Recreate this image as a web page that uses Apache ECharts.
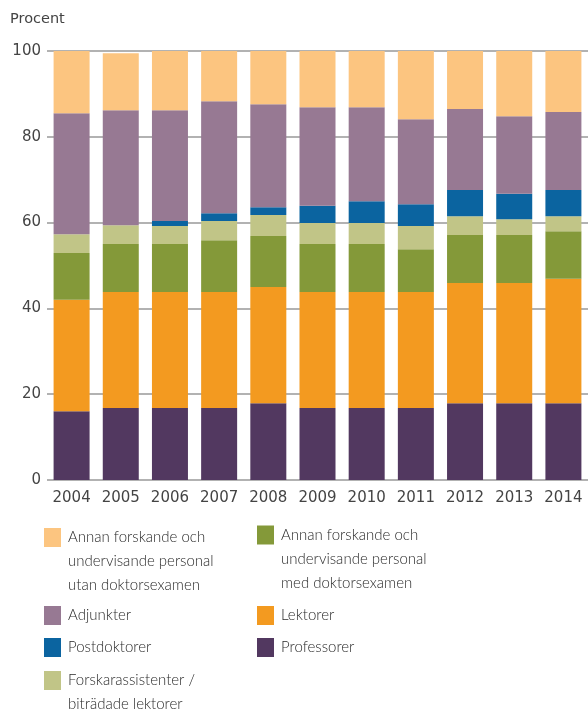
<!DOCTYPE html>
<html>
<head>
<meta charset="utf-8">
<script src="https://cdn.jsdelivr.net/npm/echarts@6/dist/echarts.min.js"></script>
<style>
  html, body { margin: 0; padding: 0; background: #fff; }
  #chart { width: 588px; height: 709px; }
</style>
</head>
<body>
<div id="chart"></div>
<script>
const years = ['2004', '2005', '2006', '2007', '2008', '2009', '2010', '2011', '2012', '2013', '2014']

// andelar i procent, nerifrån och upp i stapeln
const professorer = [16, 16.8, 16.8, 16.8, 17.9, 16.8, 16.8, 16.8, 17.9, 17.9, 17.9]
const lektorer = [26, 27, 27, 27, 27.1, 27, 27, 27, 28, 28, 29]
const annanMed = [10.9, 11.2, 11.2, 12.1, 11.9, 11.2, 11.2, 10, 11.2, 11.2, 11.1]
const forskarass = [4.4, 4.4, 4.2, 4.5, 4.9, 4.9, 4.9, 5.4, 4.4, 3.7, 3.5]
const postdok = [0, 0, 1.2, 1.8, 1.8, 4.0, 5.1, 5.1, 6.1, 5.9, 6.1]
const adjunkter = [28.2, 26.8, 25.8, 26.1, 24.0, 23.0, 21.9, 19.8, 18.9, 18.1, 18.2]
const annanUtan = [14.5, 13.3, 14.3, 11.7, 12.6, 13.1, 13.3, 15.9, 13.5, 15.2, 14.2]

const yTicks = [0, 20, 40, 60, 80, 100]

const names = {
  utan: 'Annan forskande och\nundervisande personal\nutan doktorsexamen',
  med: 'Annan forskande och\nundervisande personal\nmed doktorsexamen',
  adj: 'Adjunkter',
  lek: 'Lektorer',
  pd: 'Postdoktorer',
  prof: 'Professorer',
  fa: 'Forskarassistenter /\nbiträdade lektorer'
}

const colors = {
  prof: '#523860',
  lek: '#f39a20',
  med: '#849939',
  fa: '#c1c587',
  pd: '#0b64a0',
  adj: '#977993',
  utan: '#fcc580'
}

const textFont = 'Lato, "DejaVu Sans", sans-serif'
const lineH = 24

const chart = echarts.init(document.getElementById('chart'))

const bar = (key, data) => ({
  name: names[key],
  type: 'bar',
  stack: 'total',
  data: data,
  barWidth: 36,
  itemStyle: { color: colors[key] },
  emphasis: { disabled: true }
})

// ett legendobjekt per post, så att två kolumner kan placeras fritt.
// rutan centreras på textblocket, så tomma rader överst gör att
// rutan hamnar vid första textraden
const legendItem = (key, left, swatchMid) => {
  const lines = names[key].split('\n').length
  const pad = '\n'.repeat(lines - 1)
  const half = (2 * lines - 1) * lineH / 2
  return {
    data: [names[key]],
    formatter: (n) => pad + n,
    left: left,
    top: swatchMid - half,
    padding: 0,
    orient: 'vertical',
    icon: 'rect',
    itemWidth: 17,
    itemHeight: 19,
    itemGap: 0,
    selectedMode: false,
    textStyle: {
      fontFamily: textFont,
      fontWeight: 300,
      fontSize: 15,
      color: '#2a2a2a',
      lineHeight: lineH,
      padding: [0, 0, 0, 2]
    }
  }
}

const option = {
  animation: false,
  grid: { left: 47, right: -2, top: 51, bottom: 229 },
  legend: [
    legendItem('utan', 44, 537.5),
    legendItem('adj', 44, 615.5),
    legendItem('pd', 44, 647.5),
    legendItem('fa', 44, 680.5),
    legendItem('med', 257, 535),
    legendItem('lek', 257, 615.5),
    legendItem('prof', 257, 647.5)
  ],
  xAxis: {
    type: 'category',
    data: years,
    axisLine: { show: false },
    axisTick: { show: false },
    axisLabel: {
      interval: 0,
      color: '#444',
      fontFamily: '"DejaVu Sans", sans-serif',
      fontSize: 15,
      margin: 11
    }
  },
  yAxis: {
    type: 'value',
    min: yTicks[0],
    max: yTicks[yTicks.length - 1],
    interval: 20,
    name: 'Procent',
    nameLocation: 'end',
    nameGap: 24,
    nameTextStyle: {
      align: 'left',
      padding: [0, 0, 0, -37],
      color: '#444',
      fontFamily: '"DejaVu Sans", sans-serif',
      fontSize: 14.5
    },
    axisLine: { show: false },
    axisTick: { show: false },
    axisLabel: {
      color: '#444',
      fontFamily: '"DejaVu Sans", sans-serif',
      fontSize: 15,
      margin: 6,
      formatter: (v) => yTicks.includes(v) ? String(v) : ''
    },
    splitLine: { lineStyle: { color: '#999', width: 1.5 } }
  },
  series: [
    bar('prof', professorer),
    bar('lek', lektorer),
    bar('med', annanMed),
    bar('fa', forskarass),
    bar('pd', postdok),
    bar('adj', adjunkter),
    bar('utan', annanUtan)
  ]
}

chart.setOption(option)
</script>
</body>
</html>
